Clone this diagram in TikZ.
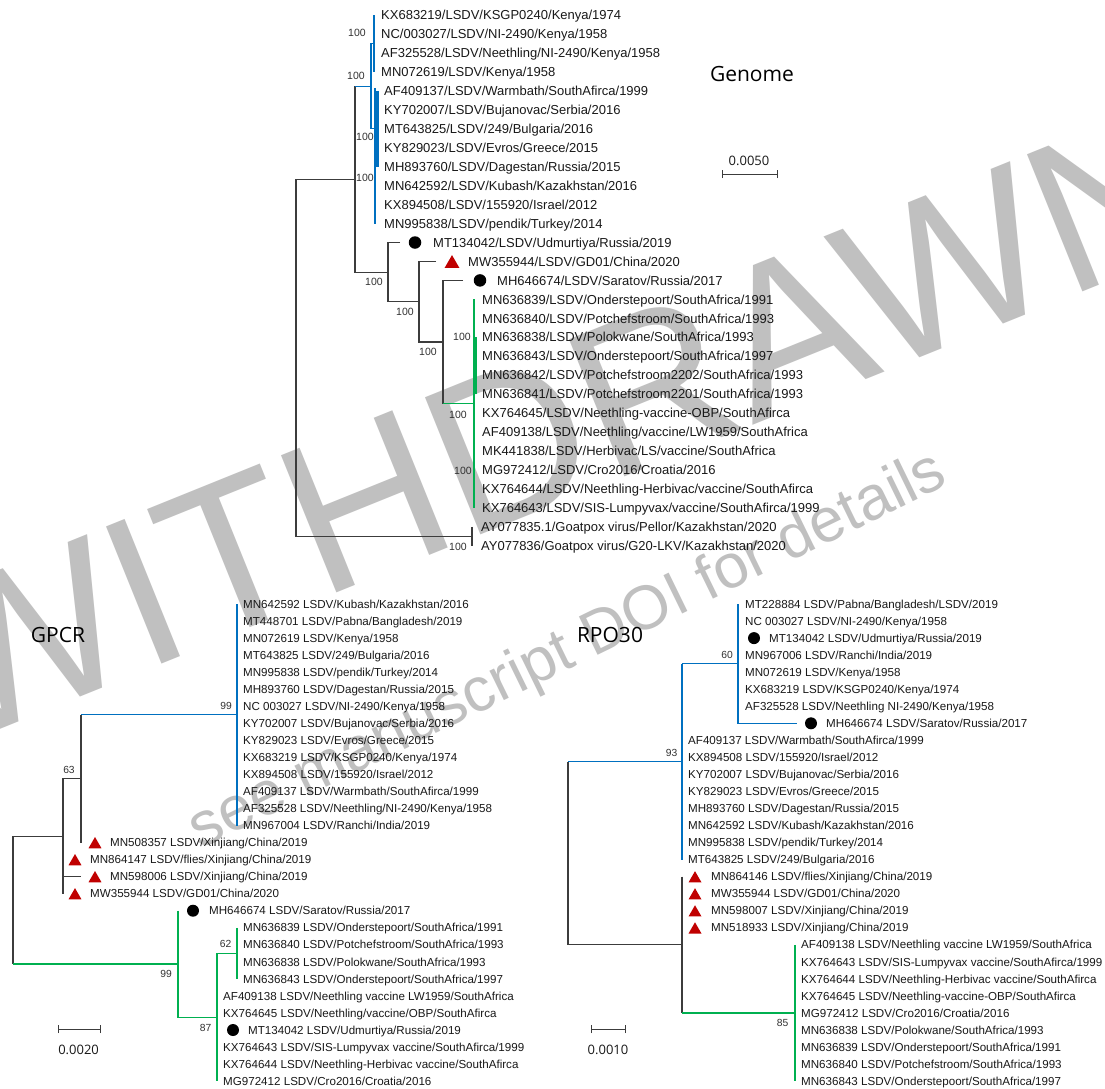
\documentclass[tikz,border=0pt]{standalone}
\usepackage{fontspec}
\setmainfont{Liberation Sans}
\newfontfamily\ttlfamily{Open Sans}
\usetikzlibrary{shapes.geometric}
\definecolor{tblue}{RGB}{0,112,192}
\definecolor{tgreen}{RGB}{0,176,80}
\definecolor{tred}{RGB}{192,0,0}
\definecolor{tline}{RGB}{60,60,60}
\definecolor{wmark}{RGB}{192,192,192}
\definecolor{ltxt}{RGB}{25,25,25}
\definecolor{bcol}{RGB}{50,50,50}
\newcommand\glabfont{\fontsize{13}{15}\selectfont}
\newcommand\slabfont{\fontsize{11.6}{13}\selectfont}
\newcommand\gbootfont{\fontsize{10.5}{12}\selectfont}
\newcommand\sbootfont{\fontsize{10.3}{12}\selectfont}
\newcommand\ttlfnt{\ttlfamily\fontsize{21}{24}\selectfont}
\newcommand\scfnt{\ttlfamily\fontsize{13}{15}\selectfont}
\newcommand\wmbig{\fontsize{215}{220}\selectfont}
\newcommand\wmsmall{\fontsize{62}{70}\selectfont}
\begin{document}
\begin{tikzpicture}[x=1pt,y=-1pt,
  br/.style={draw=tline,line width=1.1pt},
  bb/.style={draw=tblue,line width=1.2pt},
  bgn/.style={draw=tgreen,line width=1.2pt},
  glab/.style={anchor=west,inner sep=0pt,text=ltxt,font=\glabfont,text height=9.3pt,text depth=0pt},
  slab/.style={anchor=west,inner sep=0pt,text=ltxt,font=\slabfont,text height=8.3pt,text depth=0pt},
  gboot/.style={inner sep=0pt,text=bcol,font=\gbootfont,text height=7.5pt,text depth=0pt},
  sboot/.style={inner sep=0pt,text=bcol,font=\sbootfont,text height=7.4pt,text depth=0pt},
  ttl/.style={inner sep=0pt,font=\ttlfnt,text=black},
  sctxt/.style={inner sep=0pt,font=\scfnt,text=ltxt},
  gdot/.style={circle,fill=black,inner sep=0pt,minimum size=12.5pt},
  gtri/.style={regular polygon,regular polygon sides=3,fill=tred,inner sep=0pt,minimum size=17pt},
  sdot/.style={circle,fill=black,inner sep=0pt,minimum size=12pt},
  stri/.style={regular polygon,regular polygon sides=3,fill=tred,inner sep=0pt,minimum size=15pt},
  sbar/.style={draw=tline,line width=0.9pt},
  wm/.style={inner sep=0pt,text=wmark}
]
\useasboundingbox[fill=white] (0,0) rectangle (1105,1088);

% ---------------- watermark ----------------
\node[wm,font=\wmbig,rotate=22] (wmA) at (555,425) {WITHDRAWN};
\node[wm,font=\wmsmall,rotate=26] (wmB) at (568,652) {see manuscript DOI for details};

% ================= GENOME TREE =================
\foreach \t [count=\i from 0] in {KX683219/LSDV/KSGP0240/Kenya/1974,NC/003027/LSDV/NI-2490/Kenya/1958,AF325528/LSDV/Neethling/NI-2490/Kenya/1958,MN072619/LSDV/Kenya/1958}
  \node[glab] (gl\i) at (381,15+18.96*\i) {\t};
\foreach \t [count=\i from 4] in {AF409137/LSDV/Warmbath/SouthAfirca/1999,KY702007/LSDV/Bujanovac/Serbia/2016,MT643825/LSDV/249/Bulgaria/2016,KY829023/LSDV/Evros/Greece/2015,MH893760/LSDV/Dagestan/Russia/2015,MN642592/LSDV/Kubash/Kazakhstan/2016,KX894508/LSDV/155920/Israel/2012,MN995838/LSDV/pendik/Turkey/2014}
  \node[glab] (gl\i) at (384,15+18.96*\i) {\t};
\node[glab] (gl12) at (433,242.5) {MT134042/LSDV/Udmurtiya/Russia/2019};
\node[glab] (gl13) at (468,261.5) {MW355944/LSDV/GD01/China/2020};
\node[glab] (gl14) at (497,280.4) {MH646674/LSDV/Saratov/Russia/2017};
\foreach \t [count=\i from 15] in {MN636839/LSDV/Onderstepoort/SouthAfrica/1991,MN636840/LSDV/Potchefstroom/SouthAfrica/1993,MN636838/LSDV/Polokwane/SouthAfrica/1993,MN636843/LSDV/Onderstepoort/SouthAfrica/1997,MN636842/LSDV/Potchefstroom2202/SouthAfrica/1993,MN636841/LSDV/Potchefstroom2201/SouthAfrica/1993,KX764645/LSDV/Neethling-vaccine-OBP/SouthAfirca,AF409138/LSDV/Neethling/vaccine/LW1959/SouthAfrica,MK441838/LSDV/Herbivac/LS/vaccine/SouthAfrica,MG972412/LSDV/Cro2016/Croatia/2016,KX764644/LSDV/Neethling-Herbivac/vaccine/SouthAfirca,KX764643/LSDV/SIS-Lumpyvax/vaccine/SouthAfirca/1999}
  \node[glab] (gl\i) at (482,15+18.96*\i) {\t};
\node[glab] (gl27) at (481,526.9) {AY077835.1/Goatpox virus/Pellor/Kazakhstan/2020};
\node[glab] (gl28) at (481,545.9) {AY077836/Goatpox virus/G20-LKV/Kazakhstan/2020};

\node[gdot] (gm12) at (415,242.5) {};
\node[gtri] (gm13) at (452,263.6) {};
\node[gdot] (gm14) at (480,280.4) {};

\coordinate (gRoot) at (296,357.8);
\coordinate (gLSDV) at (355,179.1);
\coordinate (gGoat) at (472,536.4);
\coordinate (gX) at (371,86.1);
\coordinate (gKen) at (374,43.4);
\coordinate (gA) at (377.5,128.8);
\coordinate (gYt) at (375,88);
\coordinate (gYb) at (375,223.6);
\coordinate (gB) at (388,272.2);
\coordinate (gC) at (419,301.8);
\coordinate (gD) at (443,342);
\coordinate (gE) at (474,403.7);
\coordinate (gEt) at (475.5,337.3);
\coordinate (gEb) at (475.5,394.2);
\coordinate (gMT) at (400,242.5);
\coordinate (gMW) at (436,261.5);
\coordinate (gMH) at (463,280.4);

\draw[br] (gLSDV) -| (gRoot) |- (gGoat);
\draw[br] (gLSDV |- gX) |- (gB);
\draw[bb] (gLSDV |- gX) -- (gX);
\draw[bb] (gX |- gKen) -- (gX |- gA);
\draw[bb] (gX |- gKen) -- (gKen);
\draw[bb] (gKen |- gl0.west) -- (gKen |- gl3.west);
\draw[bb] (gX |- gA) -- (gA);
\draw[bb,line width=2.2pt] (gA |- gl4.west) -- (gA |- gl8.west);
\draw[bb] (gYt) -- (gYb);
\draw[br] (gMT) -| (gB) |- (gC);
\draw[br] (gMW) -| (gC) |- (gD);
\draw[br] (gMH) -| (gD) -- (gD |- gE);
\draw[bgn] (gD |- gE) -- (gE);
\draw[bgn] (gE |- gl15.west) -- (gE |- gl26.west);
\draw[bgn,line width=2.4pt] (gEt) -- (gEb);
\draw[br] (gGoat |- gl27.west) -- (gGoat |- gl28.west);

\node[gboot] (gb1) at (357,33) {100};
\node[gboot] (gb2) at (356,76) {100};
\node[gboot] (gb3) at (365,137) {100};
\node[gboot] (gb4) at (365,178) {100};
\node[gboot] (gb5) at (374,282) {100};
\node[gboot] (gb6) at (405,312) {100};
\node[gboot] (gb7) at (428,352) {100};
\node[gboot] (gb8) at (462,337) {100};
\node[gboot] (gb9) at (458,415) {100};
\node[gboot] (gb10) at (463,471) {100};
\node[gboot] (gb11) at (458,547) {100};

\node[ttl] (gtitle) at (752,74) {Genome};
\coordinate (gs1) at (722,174);
\coordinate (gs2) at (777,174);
\draw[sbar] (gs1) -- (gs2);
\draw[sbar] ([yshift=-4pt]gs1) -- ([yshift=4pt]gs1);
\draw[sbar] ([yshift=-4pt]gs2) -- ([yshift=4pt]gs2);
\node[sctxt] (gst) at (749,161) {0.0050};

% ================= GPCR TREE =================
\foreach \t [count=\i from 0] in {MN642592 LSDV/Kubash/Kazakhstan/2016,MT448701 LSDV/Pabna/Bangladesh/2019,MN072619 LSDV/Kenya/1958,MT643825 LSDV/249/Bulgaria/2016,MN995838 LSDV/pendik/Turkey/2014,MH893760 LSDV/Dagestan/Russia/2015,NC 003027 LSDV/NI-2490/Kenya/1958,KY702007 LSDV/Bujanovac/Serbia/2016,KY829023 LSDV/Evros/Greece/2015,KX683219 LSDV/KSGP0240/Kenya/1974,KX894508 LSDV/155920/Israel/2012,AF409137 LSDV/Warmbath/SouthAfirca/1999,AF325528 LSDV/Neethling/NI-2490/Kenya/1958,MN967004 LSDV/Ranchi/India/2019}
  \node[slab] (pl\i) at (243,604+17.04*\i) {\t};
\node[slab] (pl14) at (110,842.6) {MN508357 LSDV/Xinjiang/China/2019};
\node[slab] (pl15) at (90,859.6) {MN864147 LSDV/flies/Xinjiang/China/2019};
\node[slab] (pl16) at (110,876.6) {MN598006 LSDV/Xinjiang/China/2019};
\node[slab] (pl17) at (90,893.7) {MW355944 LSDV/GD01/China/2020};
\node[slab] (pl18) at (209,910.7) {MH646674 LSDV/Saratov/Russia/2017};
\foreach \t [count=\i from 19] in {MN636839 LSDV/Onderstepoort/SouthAfrica/1991,MN636840 LSDV/Potchefstroom/SouthAfrica/1993,MN636838 LSDV/Polokwane/SouthAfrica/1993,MN636843 LSDV/Onderstepoort/SouthAfrica/1997}
  \node[slab] (pl\i) at (243,604+17.04*\i) {\t};
\node[slab] (pl23) at (223,995.9) {AF409138 LSDV/Neethling vaccine LW1959/SouthAfrica};
\node[slab] (pl24) at (223,1013) {KX764645 LSDV/Neethling/vaccine/OBP/SouthAfirca};
\node[slab] (pl25) at (248,1030) {MT134042 LSDV/Udmurtiya/Russia/2019};
\node[slab] (pl26) at (223,1047) {KX764643 LSDV/SIS-Lumpyvax vaccine/SouthAfirca/1999};
\node[slab] (pl27) at (223,1064.1) {KX764644 LSDV/Neethling-Herbivac vaccine/SouthAfirca};
\node[slab] (pl28) at (223,1081.1) {MG972412 LSDV/Cro2016/Croatia/2016};

\node[stri] (pm14) at (95,844.5) {};
\node[stri] (pm15) at (75,861.5) {};
\node[stri] (pm16) at (95,878.5) {};
\node[stri] (pm17) at (75,895.6) {};
\node[sdot] (pm18) at (193,910.7) {};
\node[sdot] (pm25) at (233,1030) {};

\coordinate (pRoot) at (13,900.1);
\coordinate (p63) at (63,836.2);
\coordinate (p81) at (81,778.7);
\coordinate (p99) at (237,714.8);
\coordinate (pG) at (178,964);
\coordinate (p87) at (217,1017.2);
\coordinate (p62) at (237,953.3);

\draw[br] (p63) -| (pRoot) -- (pRoot |- pG);
\draw[bgn] (pRoot |- pG) -- (pG);
\draw[br] (p81) -| (p63) -- (p63 |- pl17.west);
\draw[br] (p63 |- pl16.west) -- (p81 |- pl16.west);
\draw[br] (p81 |- p99) -- (p81 |- pl14.west);
\draw[bb] (p81 |- p99) -- (p99);
\draw[bb] (p99 |- pl0.west) -- (p99 |- pl13.west);
\draw[bgn] (pG |- pl18.west) -- (pG |- p87) -- (p87);
\draw[bgn] (p87 |- p62) -- (p87 |- pl28.west);
\draw[bgn] (p87 |- p62) -- (p62);
\draw[bgn] (p62 |- pl19.west) -- (p62 |- pl22.west);

\node[sboot] (pb1) at (226,706) {99};
\node[sboot] (pb2) at (69,770) {63};
\node[sboot] (pb3) at (166,974) {99};
\node[sboot] (pb4) at (225.5,944) {62};
\node[sboot] (pb5) at (205.5,1028) {87};

\node[ttl] (ptitle) at (58,635) {GPCR};
\coordinate (ps1) at (58,1029);
\coordinate (ps2) at (100,1029);
\draw[sbar] (ps1) -- (ps2);
\draw[sbar] ([yshift=-4pt]ps1) -- ([yshift=4pt]ps1);
\draw[sbar] ([yshift=-4pt]ps2) -- ([yshift=4pt]ps2);
\node[sctxt] (pst) at (78.6,1050) {0.0020};

% ================= RPO30 TREE =================
\node[slab] (rl0) at (745,604) {MT228884 LSDV/Pabna/Bangladesh/LSDV/2019};
\node[slab] (rl1) at (745,621) {NC 003027 LSDV/NI-2490/Kenya/1958};
\node[slab] (rl2) at (769,638.1) {MT134042 LSDV/Udmurtiya/Russia/2019};
\foreach \t [count=\i from 3] in {MN967006 LSDV/Ranchi/India/2019,MN072619 LSDV/Kenya/1958,KX683219 LSDV/KSGP0240/Kenya/1974,AF325528 LSDV/Neethling NI-2490/Kenya/1958}
  \node[slab] (rl\i) at (745,604+17.04*\i) {\t};
\node[slab] (rl7) at (826,723.3) {MH646674 LSDV/Saratov/Russia/2017};
\foreach \t [count=\i from 8] in {AF409137 LSDV/Warmbath/SouthAfirca/1999,KX894508 LSDV/155920/Israel/2012,KY702007 LSDV/Bujanovac/Serbia/2016,KY829023 LSDV/Evros/Greece/2015,MH893760 LSDV/Dagestan/Russia/2015,MN642592 LSDV/Kubash/Kazakhstan/2016,MN995838 LSDV/pendik/Turkey/2014,MT643825 LSDV/249/Bulgaria/2016}
  \node[slab] (rl\i) at (688,604+17.04*\i) {\t};
\foreach \t [count=\i from 16] in {MN864146 LSDV/flies/Xinjiang/China/2019,MW355944 LSDV/GD01/China/2020,MN598007 LSDV/Xinjiang/China/2019,MN518933 LSDV/Xinjiang/China/2019}
  {\node[slab] (rl\i) at (711,604+17.04*\i) {\t};
   \node[stri] (rm\i) at (695,606+17.04*\i) {};}
\foreach \t [count=\i from 20] in {AF409138 LSDV/Neethling vaccine LW1959/SouthAfrica,KX764643 LSDV/SIS-Lumpyvax vaccine/SouthAfirca/1999,KX764644 LSDV/Neethling-Herbivac vaccine/SouthAfirca,KX764645 LSDV/Neethling-vaccine-OBP/SouthAfirca,MG972412 LSDV/Cro2016/Croatia/2016,MN636838 LSDV/Polokwane/SouthAfrica/1993,MN636839 LSDV/Onderstepoort/SouthAfrica/1991,MN636840 LSDV/Potchefstroom/SouthAfrica/1993,MN636843 LSDV/Onderstepoort/SouthAfrica/1997}
  \node[slab] (rl\i) at (801,604+17.04*\i) {\t};
\node[sdot] (rm2) at (754,638.1) {};
\node[sdot] (rm7) at (811,723.3) {};

\coordinate (rRoot) at (568,853.2);
\coordinate (r93) at (682,761.6);
\coordinate (r60) at (738,663.7);
\coordinate (rB) at (682,944.8);
\coordinate (r85) at (795,1013);
\coordinate (rMH) at (797,723.3);

\draw[br] (rRoot |- r93) -- (rRoot |- rB) -- (rB);
\draw[bb] (rRoot |- r93) -- (r93);
\draw[bb] (r93 |- r60) -- (r93 |- rl15.west);
\draw[bb] (r93 |- r60) -- (r60);
\draw[bb] (r60 |- rl0.west) -- (r60 |- rl7.west) -- (rMH);
\draw[br] (rB |- rl16.west) -- (rB |- r85);
\draw[bgn] (rB |- r85) -- (r85);
\draw[bgn] (r85 |- rl20.west) -- (r85 |- rl28.west);

\node[sboot] (rb1) at (727,655) {60};
\node[sboot] (rb2) at (671.5,753) {93};
\node[sboot] (rb3) at (782.5,1023) {85};

\node[ttl] (rtitle) at (610,635) {RPO30};
\coordinate (rs1) at (591,1029);
\coordinate (rs2) at (625,1029);
\draw[sbar] (rs1) -- (rs2);
\draw[sbar] ([yshift=-4pt]rs1) -- ([yshift=4pt]rs1);
\draw[sbar] ([yshift=-4pt]rs2) -- ([yshift=4pt]rs2);
\node[sctxt] (rst) at (608,1050) {0.0010};
\end{tikzpicture}
\end{document}
